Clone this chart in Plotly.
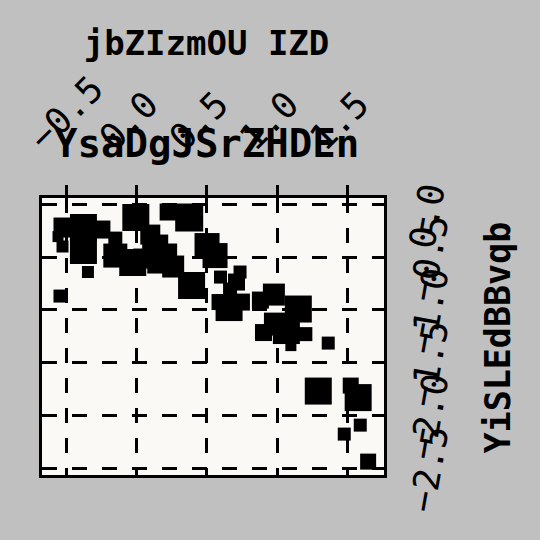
import plotly.graph_objects as go

x_vals = [-0.546, -0.347, -0.521, -0.560, -0.528, -0.379, -0.379, -0.251, -0.152, -0.006,
          -0.152, -0.028, 0.097, 0.132, 0.168, 0.260, 0.224, 0.047, 0.224, 0.374,
          0.391, 0.501, 0.558, 0.597, 0.736, 0.711, 0.665, 0.746, 0.658, 0.590,
          0.881, 0.977, 1.151, 0.988, 0.903, 1.066, 1.098, 1.201, 1.364, 1.293,
          1.254, 1.524, 1.577, 1.592, 1.478, 1.648]
y_vals = [-0.868, -0.640, -0.218, -0.304, -0.398, -0.218, -0.436, -0.237, -0.323, -0.123,
          -0.484, -0.550, -0.285, -0.408, -0.531, -0.588, -0.455, -0.512, -0.071, -0.123,
          -0.768, -0.389, -0.484, -0.688, -0.640, -0.735, -0.806, -0.925, -0.977, -0.925,
          -0.906, -0.854, -0.991, -1.134, -1.214, -1.195, -1.338, -1.229, -1.314, -1.769,
          -1.727, -1.717, -1.831, -2.092, -2.177, -2.438]
sizes = [13, 12, 20, 11, 12, 27, 27, 18, 14, 27,
         24, 27, 20, 26, 26, 22, 18, 20, 17, 28,
         27, 25, 25, 13, 13, 17, 14, 17, 27, 16,
         17, 22, 27, 23, 17, 27, 11, 14, 13, 27,
         15, 16, 27, 13, 13, 16]

title_text = "jbZIzmOU IZD"
x_title = "YsaDgJSrZHDEn"
y_title = "YiSLEdBBvqb"

FONT = "DejaVu Sans Mono"

fig = go.Figure(go.Scatter(
    x=x_vals, y=y_vals, mode="markers",
    marker=dict(symbol="square", color="black", size=sizes, line=dict(width=0), opacity=1),
    showlegend=False,
))

grid = dict(showgrid=True, gridcolor="black", gridwidth=3.3, griddash="15px,15px",
            zeroline=False, showline=True, mirror=True, linecolor="black", linewidth=2.5)

fig.update_layout(
    width=540, height=540,
    margin=dict(l=42, r=156, t=198, b=65, autoexpand=False),
    paper_bgcolor="#c0c0c0", plot_bgcolor="#faf9f5",
    font=dict(family=FONT, color="black"),
    title=dict(text=title_text, x=206.5 / 540, xref="container", xanchor="center",
               y=1 - 43 / 540, yref="container", yanchor="middle",
               font=dict(family=FONT, size=34, weight="bold", color="black")),
    xaxis=dict(side="top", range=[-0.674, 1.761], tick0=0, dtick=0.5, tickformat=".1f",
               tickangle=-45, ticks="outside", ticklen=10, tickwidth=2.5, tickcolor="black",
               ticklabelshift=-35, ticklabelstandoff=13,
               tickfont=dict(family=FONT, size=36, color="black"),
               automargin=False, **grid),
    yaxis=dict(side="right", range=[-2.565, 0.062], tick0=0, dtick=0.5, tickformat=".1f",
               tickangle=-80, ticks="", ticklabelshift=48, ticklabelstandoff=22,
               tickfont=dict(family=FONT, size=36, color="black"),
               automargin=False, **grid),
    annotations=[
        dict(text=x_title, xref="paper", yref="paper",
             x=(206.5 - 42) / 342, y=(475 - 143) / 277,
             xanchor="center", yanchor="middle", showarrow=False,
             font=dict(family=FONT, size=39, weight="bold", color="black")),
        dict(text=y_title, xref="paper", yref="paper", textangle=-90,
             x=(497 - 42) / 342, y=(475 - 337.5) / 277,
             xanchor="center", yanchor="middle", showarrow=False,
             font=dict(family=FONT, size=35, weight="bold", color="black")),
    ],
)

fig.write_html("out.html")
